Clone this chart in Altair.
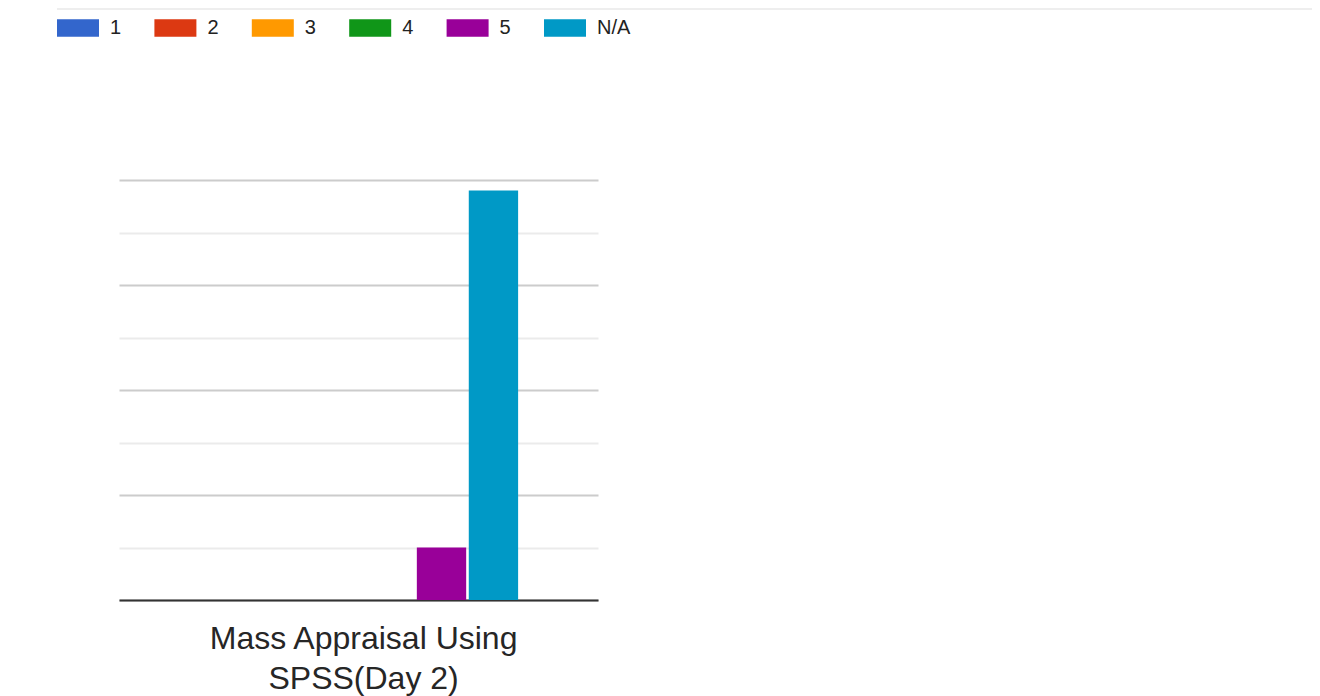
import altair as alt
import pandas as pd

# ---- data ----
question_lines = ["Mass Appraisal Using", "SPSS(Day 2)"]
responses = ["1", "2", "3", "4", "5", "N/A"]
counts = [0, 0, 0, 0, 5, 39]
colors = ["#3366cc", "#dc3912", "#ff9900", "#109618", "#990099", "#0099c6"]
y_ticks = [0, 5, 10, 15, 20, 25, 30, 35, 40]

question = "\n".join(question_lines)
df = pd.DataFrame({
    "question": [question] * len(responses),
    "response": responses,
    "count": counts,
})

FONT = "Liberation Sans"

bars = alt.Chart(df).mark_bar(clip=False).encode(
    x=alt.X(
        "question:N",
        scale=alt.Scale(paddingInner=0, paddingOuter=0.275, align=0.53),
        axis=alt.Axis(
            title=None,
            labelExpr="split(datum.label, '\\n')",
            labelFont=FONT,
            labelFontSize=32,
            labelLineHeight=40,
            labelColor="#262626",
            labelPadding=23,
            labelLimit=0,
            labelAngle=0,
            ticks=False,
            tickSize=0,
            domainColor="#333333",
            domainWidth=2,
            grid=False,
        ),
    ),
    xOffset=alt.XOffset(
        "response:N",
        sort=responses,
        scale=alt.Scale(paddingInner=0.05, paddingOuter=0),
    ),
    y=alt.Y(
        "count:Q",
        scale=alt.Scale(domain=[0, 40], nice=False),
        axis=alt.Axis(
            title=None,
            values=y_ticks,
            labels=False,
            ticks=False,
            tickSize=0,
            domain=False,
            gridColor={
                "condition": {"test": "datum.value % 10 === 0", "value": "#cccccc"},
                "value": "#ebebeb",
            },
            gridWidth=2,
        ),
    ),
    color=alt.Color(
        "response:N",
        sort=responses,
        scale=alt.Scale(domain=responses, range=colors),
        legend=alt.Legend(
            title=None,
            orient="none",
            direction="horizontal",
            legendX=-62,
            legendY=-173,
            symbolType="M-1,-0.42H1V0.42H-1Z",
            symbolSize=1764,
            symbolStrokeWidth=0,
            symbolOpacity=1,
            labelFont=FONT,
            labelFontSize=20,
            labelColor="#222222",
            labelOffset=11,
            columnPadding=32.4,
            padding=0,
        ),
    ),
)

# thin separator line across the top of the card
sep = alt.Chart(pd.DataFrame({"k": [0]})).mark_rule(
    color="#eeeeee", strokeWidth=2, clip=False
).encode(
    x=alt.value(-62),
    x2=alt.value(1194),
    y=alt.value(-171),
)

chart = alt.layer(bars, sep).properties(
    width=479,
    height=420,
    autosize=alt.AutoSizeParams(type="none"),
    padding={"left": 111, "top": 172, "right": 714, "bottom": 96},
    background="white",
).configure_view(stroke=None)

chart.save("out.html", embed_options={"renderer": "svg", "actions": False})
